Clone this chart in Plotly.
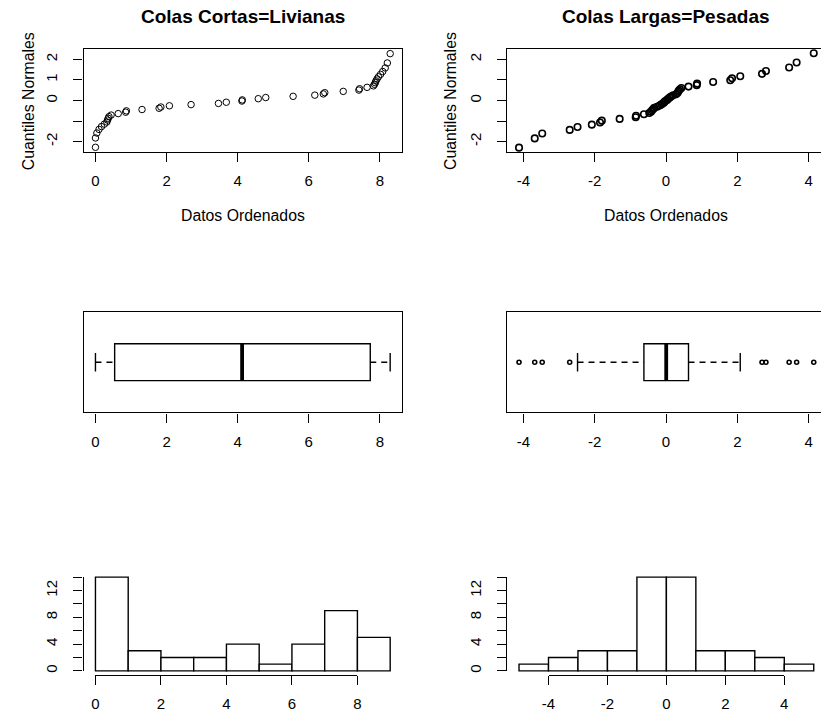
import math
import plotly.graph_objects as go

W, H = 825, 715

# ---------------- data ----------------
# sorted sample, short tails (n = 44)
cortas_datos = [0.00, 0.00, 0.04, 0.10, 0.17, 0.25, 0.32, 0.34, 0.36, 0.38, 0.44, 0.64, 0.85, 0.87,
                1.31, 1.79, 1.84, 2.08, 2.69, 3.46, 3.68, 4.12, 4.13, 4.58, 4.79, 5.56,
                6.17, 6.41, 6.45, 6.97, 7.41, 7.43, 7.64, 7.82, 7.85, 7.87, 7.89, 7.92, 7.96,
                8.02, 8.08, 8.15, 8.21, 8.29]
# theoretical normal quantiles for n = 44
cortas_cuantiles = [-2.278, -1.824, -1.582, -1.408, -1.269, -1.150, -1.046, -0.952, -0.866, -0.786,
                    -0.711, -0.639, -0.571, -0.505, -0.441, -0.379, -0.319, -0.259, -0.201, -0.143,
                    -0.086, -0.028, 0.028, 0.086, 0.143, 0.201, 0.259, 0.319, 0.379, 0.441,
                    0.505, 0.571, 0.639, 0.711, 0.786, 0.866, 0.952, 1.046, 1.150, 1.269,
                    1.408, 1.582, 1.824, 2.278]

# sorted sample, long tails (n = 46)
largas_datos = [-4.12, -3.68, -3.47, -2.70, -2.48, -2.08, -1.85, -1.80, -1.30, -0.85, -0.84, -0.62,
                -0.47, -0.42, -0.39, -0.36, -0.33, -0.25, -0.18, -0.13, -0.08, -0.05, -0.02,
                0.03, 0.06, 0.10, 0.14, 0.20, 0.28, 0.32, 0.34, 0.36, 0.39, 0.43,
                0.63, 0.86, 0.87, 1.32, 1.80, 1.85, 2.08, 2.69, 2.80, 3.45, 3.66, 4.14]
largas_cuantiles = [-2.295, -1.844, -1.604, -1.432, -1.294, -1.177, -1.075, -0.982, -0.897, -0.819,
                    -0.745, -0.674, -0.608, -0.543, -0.481, -0.421, -0.362, -0.304, -0.248, -0.192,
                    -0.137, -0.082, -0.027, 0.027, 0.082, 0.137, 0.192, 0.248, 0.304, 0.362,
                    0.421, 0.481, 0.543, 0.608, 0.674, 0.745, 0.819, 0.897, 0.982, 1.075,
                    1.177, 1.294, 1.432, 1.604, 1.844, 2.295]

# histograms
cortas_bordes = [0, 1, 2, 3, 4, 5, 6, 7, 8, 9]
cortas_conteos = [14, 3, 2, 2, 4, 1, 4, 9, 5]
largas_bordes = [-5, -4, -3, -2, -1, 0, 1, 2, 3, 4, 5]
largas_conteos = [1, 2, 3, 3, 14, 14, 3, 3, 2, 1]

titulos = ["Colas Cortas=Livianas", "Colas Largas=Pesadas"]
xlab = "Datos Ordenados"
ylab = "Cuantiles Normales"

qq_yticks = [-2, -1, 0, 1, 2]
qq_yticktext_izq = ["-2", "", "0", "1", "2"]
qq_yticktext_der = ["-2", "", "0", "", "2"]
cortas_xticks = [0, 2, 4, 6, 8]
cortas_xticktext = ["0", "2", "4", "6", "8"]
largas_xticks = [-4, -2, 0, 2, 4]
largas_xticktext = ["-4", "-2", "0", "2", "4"]
hist_yticks = [0, 2, 4, 6, 8, 10, 12, 14]
hist_yticktext = ["0", "", "4", "", "8", "", "12", ""]

# ---------------- layout geometry (pixels) ----------------
FONT = "Liberation Sans, Arial, Helvetica, sans-serif"
LW = 1.4
L0, L1 = 77.7, 400.3
R0 = 507.0
PW = L1 - L0             # plot region width
ROWS = {"qq": (49.0, 152.5), "box": (313.0, 413.5), "hist": (575.0, 676.5)}


def fx(px):
    return px / W


def fy(py):
    return 1 - py / H


def ext(lo, hi):
    d = (hi - lo) * 0.04
    return lo - d, hi + d


def right_clip(rng):
    a, b = rng
    return [a, a + (b - a) * (W - R0) / PW]


def fivenum(v):
    s = sorted(v)
    n = len(s)
    n4 = math.floor((n + 3) / 2) / 2
    d = [1, n4, (n + 1) / 2, n + 1 - n4, n]
    return [0.5 * (s[math.floor(di) - 1] + s[math.ceil(di) - 1]) for di in d]


def box_stats(v):
    _, q1, med, q3, _ = fivenum(v)
    iqr = q3 - q1
    lo_f, hi_f = q1 - 1.5 * iqr, q3 + 1.5 * iqr
    inside = [x for x in v if lo_f <= x <= hi_f]
    out = [x for x in v if x < lo_f or x > hi_f]
    return q1, med, q3, min(inside), max(inside), out


fig = go.Figure()

xr_c = list(ext(min(cortas_datos), max(cortas_datos)))
xr_l_full = ext(min(largas_datos), max(largas_datos))
xr_l = right_clip(xr_l_full)
hx_c = list(ext(cortas_bordes[0], cortas_bordes[-1]))
hx_l_full = ext(largas_bordes[0], largas_bordes[-1])
hx_l = right_clip(hx_l_full)
hy = list(ext(0, max(max(cortas_conteos), max(largas_conteos))))

axis_common = dict(showgrid=False, zeroline=False, showline=True, linecolor="black",
                   linewidth=LW, ticks="outside", ticklen=9, tickwidth=LW, tickcolor="black",
                   tickfont=dict(family=FONT, size=15, color="black"))
xax = dict(axis_common, ticklabelstandoff=6)
yax = dict(axis_common, ticklabelstandoff=10)

lay = {}
# ---- row 1: QQ plots ----
t, b = ROWS["qq"]
fig.add_trace(go.Scatter(x=cortas_datos, y=cortas_cuantiles, mode="markers",
                         marker=dict(symbol="circle-open", size=6.5, color="black", line=dict(width=1)),
                         xaxis="x", yaxis="y", hoverinfo="skip"))
fig.add_trace(go.Scatter(x=largas_datos, y=largas_cuantiles, mode="markers",
                         marker=dict(symbol="circle-open", size=6.5, color="black", line=dict(width=1.6)),
                         xaxis="x2", yaxis="y2", hoverinfo="skip"))
lay["xaxis"] = dict(xax, domain=[fx(L0), fx(L1)], range=xr_c, anchor="y",
                    tickvals=cortas_xticks, ticktext=cortas_xticktext, mirror=True)
lay["yaxis"] = dict(yax, domain=[fy(b), fy(t)], range=[-2.51, 2.51], anchor="x",
                    tickvals=qq_yticks, ticktext=qq_yticktext_izq, tickangle=-90, mirror=True)
lay["xaxis2"] = dict(xax, domain=[fx(R0), 1.0], range=xr_l, anchor="y2",
                     tickvals=largas_xticks, ticktext=largas_xticktext, mirror=True)
lay["yaxis2"] = dict(yax, domain=[fy(b), fy(t)], range=[-2.51, 2.51], anchor="x2",
                     tickvals=qq_yticks, ticktext=qq_yticktext_der, tickangle=-90, mirror=False)

# ---- row 2: boxplots ----
t, b = ROWS["box"]
BOX_HW = 0.368
for datos, xa, ya in [(cortas_datos, "x3", "y3"), (largas_datos, "x4", "y4")]:
    q1, med, q3, lw, uw, out = box_stats(datos)
    fig.add_trace(go.Box(orientation="h", y=[0], q1=[q1], median=[med], q3=[q3],
                         lowerfence=[q1], upperfence=[q3], width=2 * BOX_HW,
                         fillcolor="white", line=dict(color="black", width=LW),
                         boxpoints=False, xaxis=xa, yaxis=ya, hoverinfo="skip"))
    fig.add_trace(go.Scatter(x=[med, med], y=[-BOX_HW, BOX_HW], mode="lines",
                             line=dict(color="black", width=3.8), xaxis=xa, yaxis=ya, hoverinfo="skip"))
    for a, c in [(lw, q1), (q3, uw)]:
        fig.add_trace(go.Scatter(x=[a, c], y=[0, 0], mode="lines",
                                 line=dict(color="black", width=LW, dash="6px,5px"),
                                 xaxis=xa, yaxis=ya, hoverinfo="skip"))
    for w in [lw, uw]:
        fig.add_trace(go.Scatter(x=[w, w], y=[-BOX_HW / 2, BOX_HW / 2], mode="lines",
                                 line=dict(color="black", width=LW), xaxis=xa, yaxis=ya, hoverinfo="skip"))
    if out:
        fig.add_trace(go.Scatter(x=out, y=[0] * len(out), mode="markers",
                                 marker=dict(symbol="circle-open", size=4, color="black", line=dict(width=1.6)),
                                 xaxis=xa, yaxis=ya, hoverinfo="skip"))
lay["xaxis3"] = dict(xax, domain=[fx(L0), fx(L1)], range=xr_c, anchor="y3",
                     tickvals=cortas_xticks, ticktext=cortas_xticktext, mirror=True)
lay["yaxis3"] = dict(yax, domain=[fy(b), fy(t)], range=[-1, 1], anchor="x3",
                     ticks="", showticklabels=False, mirror=True)
lay["xaxis4"] = dict(xax, domain=[fx(R0), 1.0], range=xr_l, anchor="y4",
                     tickvals=largas_xticks, ticktext=largas_xticktext, mirror=True)
lay["yaxis4"] = dict(yax, domain=[fy(b), fy(t)], range=[-1, 1], anchor="x4",
                     ticks="", showticklabels=False, mirror=False)

# ---- row 3: histograms ----
t, b = ROWS["hist"]
for bordes, conteos, xa, ya in [(cortas_bordes, cortas_conteos, "x5", "y5"),
                                (largas_bordes, largas_conteos, "x6", "y6")]:
    centros = [(bordes[i] + bordes[i + 1]) / 2 for i in range(len(conteos))]
    fig.add_trace(go.Bar(x=centros, y=conteos, width=1,
                         marker=dict(color="white", line=dict(color="black", width=LW)),
                         xaxis=xa, yaxis=ya, hoverinfo="skip"))
lay["xaxis5"] = dict(domain=[fx(L0), fx(L1)], range=hx_c, anchor="y5", visible=False)
lay["yaxis5"] = dict(domain=[fy(b), fy(t)], range=hy, anchor="x5", visible=False)
lay["xaxis6"] = dict(domain=[fx(R0), 1.0], range=hx_l, anchor="y6", visible=False)
lay["yaxis6"] = dict(domain=[fy(b), fy(t)], range=hy, anchor="x6", visible=False)


def vpx(v, rng, p0):
    return p0 + (v - rng[0]) / (rng[1] - rng[0]) * PW


def vpy(v):
    return b - (v - hy[0]) / (hy[1] - hy[0]) * (b - t)


# axis lines spanning only the tick range (as in R)
lay["xaxis7"] = dict(xax, domain=[fx(vpx(cortas_xticks[0], hx_c, L0)), fx(vpx(cortas_xticks[-1], hx_c, L0))],
                     range=[cortas_xticks[0], cortas_xticks[-1]], anchor="y5",
                     tickvals=cortas_xticks, ticktext=cortas_xticktext)
lay["yaxis7"] = dict(yax, domain=[fy(vpy(hist_yticks[0])), fy(vpy(hist_yticks[-1]))],
                     range=[hist_yticks[0], hist_yticks[-1]], anchor="x5", tickvals=hist_yticks,
                     ticktext=hist_yticktext, tickangle=-90)
lay["xaxis8"] = dict(xax, domain=[fx(vpx(largas_xticks[0], hx_l_full, R0)), fx(vpx(largas_xticks[-1], hx_l_full, R0))],
                     range=[largas_xticks[0], largas_xticks[-1]], anchor="y6",
                     tickvals=largas_xticks, ticktext=largas_xticktext)
lay["yaxis8"] = dict(yax, domain=[fy(vpy(hist_yticks[0])), fy(vpy(hist_yticks[-1]))],
                     range=[hist_yticks[0], hist_yticks[-1]], anchor="x6", tickvals=hist_yticks,
                     ticktext=hist_yticktext, tickangle=-90)
for xa, ya in [("x7", "y5"), ("x5", "y7"), ("x8", "y6"), ("x6", "y8")]:
    fig.add_trace(go.Scatter(x=[0], y=[0], mode="markers", marker=dict(opacity=0),
                             xaxis=xa, yaxis=ya, hoverinfo="skip"))

# ---- text ----
ann = []
cx_l = (L0 + L1) / 2
cx_r = (R0 + R0 + PW) / 2
for txt, cx in zip(titulos, [cx_l, cx_r]):
    ann.append(dict(text="<b>%s</b>" % txt, x=fx(cx), y=fy(17), xref="paper", yref="paper",
                    showarrow=False, xanchor="center", yanchor="middle",
                    font=dict(family=FONT, size=19, color="black")))
for cx in [cx_l, cx_r]:
    ann.append(dict(text=xlab, x=fx(cx), y=fy(216.5), xref="paper", yref="paper",
                    showarrow=False, xanchor="center", yanchor="middle",
                    font=dict(family=FONT, size=15.8, color="black")))
for cx in [21.7, 449.3]:
    ann.append(dict(text=ylab, x=fx(cx), y=fy(101), xref="paper", yref="paper", textangle=-90,
                    showarrow=False, xanchor="center", yanchor="middle",
                    font=dict(family=FONT, size=15.8, color="black")))

fig.update_layout(width=W, height=H, margin=dict(l=0, r=0, t=0, b=0),
                  paper_bgcolor="white", plot_bgcolor="rgba(0,0,0,0)",
                  showlegend=False, annotations=ann, **lay)

fig.write_html("out.html")
